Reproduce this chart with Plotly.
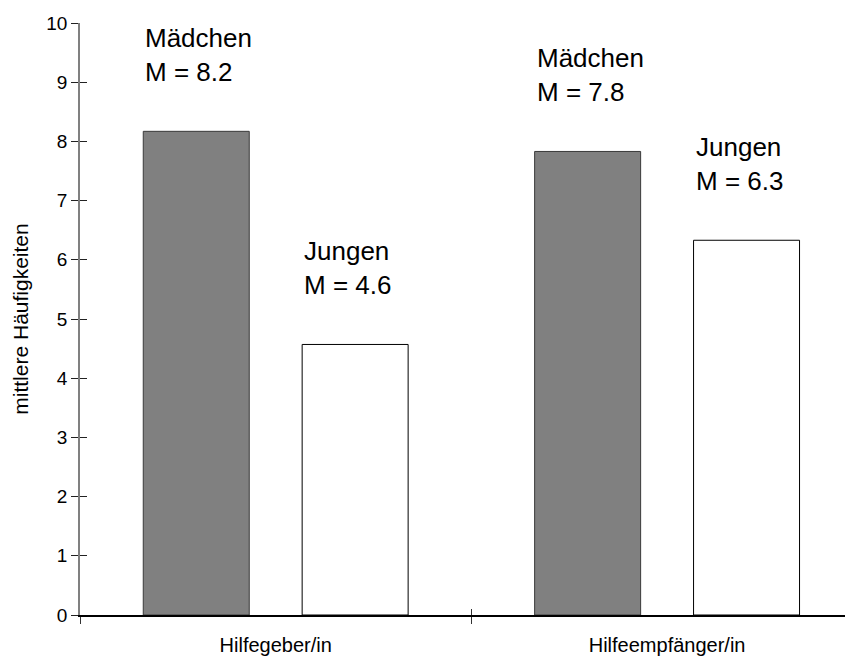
import plotly.graph_objects as go

categories = ["Hilfegeber/in", "Hilfeempfänger/in"]
maedchen = [8.17, 7.83]
jungen = [4.57, 6.33]
maedchen_labels = ["Mädchen<br>M = 8.2", "Mädchen<br>M = 7.8"]
jungen_labels = ["Jungen<br>M = 4.6", "Jungen<br>M = 6.3"]
y_ticks = list(range(0, 11))

FONT = "Liberation Sans, Arial, sans-serif"
BARGAP = 0.188
GROUPGAP = 0.333
slot = (1 - BARGAP) / 2
barw = slot * (1 - GROUPGAP)
label_gap = 1.82

fig = go.Figure()
fig.add_trace(go.Bar(x=categories, y=maedchen, name="Mädchen",
                     marker=dict(color="#808080", line=dict(color="#3a3a3a", width=1)),
                     hoverinfo="skip"))
fig.add_trace(go.Bar(x=categories, y=jungen, name="Jungen",
                     marker=dict(color="#ffffff", line=dict(color="#000000", width=1)),
                     hoverinfo="skip"))
# empty trace to anchor overlay axes (inner tick halves)
fig.add_trace(go.Scatter(x=[], y=[], xaxis="x2", yaxis="y2", showlegend=False))

annotations = []
for i in range(len(categories)):
    left_m = i - slot / 2 - barw / 2
    left_j = i + slot / 2 - barw / 2
    annotations.append(dict(x=left_m, y=maedchen[i] + label_gap, xref="x", yref="y",
                            text=maedchen_labels[i], showarrow=False, xanchor="left",
                            yanchor="top", align="left", xshift=0, yshift=3,
                            font=dict(family=FONT, size=26, color="#000")))
    annotations.append(dict(x=left_j, y=jungen[i] + label_gap, xref="x", yref="y",
                            text=jungen_labels[i], showarrow=False, xanchor="left",
                            yanchor="top", align="left", xshift=0, yshift=3,
                            font=dict(family=FONT, size=26, color="#000")))

xr = [-0.5, 1.475]
fig.update_layout(
    width=845, height=648,
    margin=dict(l=72, r=0, t=15, b=41),
    paper_bgcolor="white", plot_bgcolor="white",
    barmode="group", bargap=BARGAP, bargroupgap=GROUPGAP,
    showlegend=False,
    font=dict(family=FONT, color="#000"),
    annotations=annotations,
    xaxis=dict(type="category", range=xr, tickson="boundaries", ticks="outside",
               ticklen=7, tickcolor="#333", showline=True, linecolor="#000", linewidth=1.5,
               showgrid=False, zeroline=False, tickfont=dict(size=20, color="#000"),
               ticklabelstandoff=11),
    xaxis2=dict(overlaying="x", range=xr, tickvals=[0.5], ticks="inside", ticklen=6,
                tickcolor="#333", showticklabels=False, showgrid=False, zeroline=False,
                showline=False, anchor="y"),
    yaxis=dict(range=[0, 10], tickvals=y_ticks, ticks="outside", ticklen=7, tickcolor="#222",
               showline=True, linecolor="#808080", linewidth=1.5, showgrid=False,
               zeroline=False, tickfont=dict(size=19, color="#000"),
               title=dict(text="mittlere Häufigkeiten", font=dict(size=21, color="#000"),
                          standoff=12)),
    yaxis2=dict(overlaying="y", range=[0, 10], tickvals=y_ticks, ticks="inside", ticklen=7,
                tickcolor="#222", showticklabels=False, showgrid=False, zeroline=False,
                showline=False, side="left", anchor="x"),
)

fig.write_html("out.html")
